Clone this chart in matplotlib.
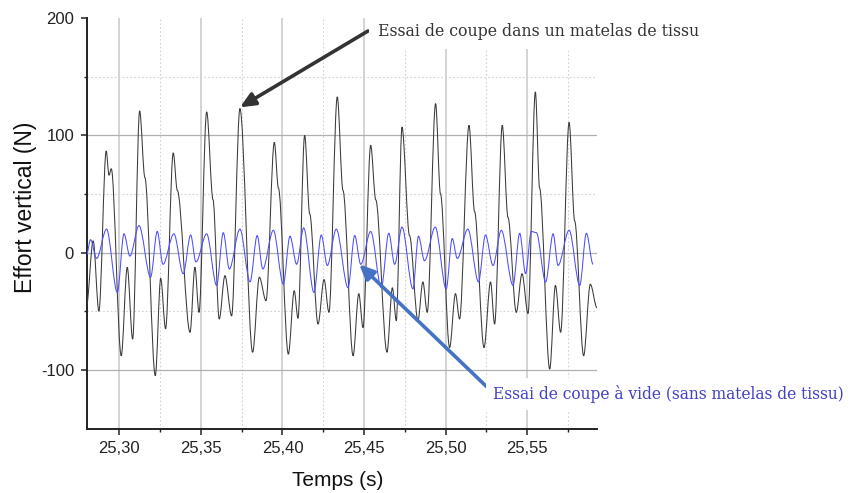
import matplotlib
matplotlib.use("Agg")
import matplotlib.pyplot as plt
from matplotlib.path import Path
from matplotlib.patches import PathPatch
from matplotlib.ticker import FixedLocator

# ---- data (extrema / shoulders of each signal) ----
t_tissu = [25.2798, 25.2839, 25.2874, 25.2919, 25.2936, 25.2950, 25.3011, 25.3048,
           25.3081, 25.3124, 25.3156, 25.3220, 25.3253, 25.3283, 25.3330, 25.3355,
           25.3433, 25.3463, 25.3488, 25.3535, 25.3574, 25.3612, 25.3647, 25.3688,
           25.3739, 25.3817, 25.3858, 25.3899, 25.3950, 25.3975, 25.4036, 25.4072,
           25.4095, 25.4136, 25.4167, 25.4218, 25.4255, 25.4285, 25.4336, 25.4371,
           25.4433, 25.4468, 25.4494, 25.4541, 25.4572, 25.4641, 25.4674, 25.4698,
           25.4733, 25.4779, 25.4831, 25.4861, 25.4888, 25.4939, 25.4969, 25.5025,
           25.5061, 25.5086, 25.5144, 25.5178, 25.5236, 25.5276, 25.5301, 25.5348,
           25.5383, 25.5434, 25.5469, 25.5506, 25.5551, 25.5577, 25.5639, 25.5674,
           25.5706, 25.5758, 25.5792, 25.5847, 25.5888, 25.5929]
f_tissu = [-45, 10, -50, 86.6, 66, 71.5, -88, -12.5,
           -73.8, 120.8, 64, -105, -22, -65, 85, 53,
           -68, -12.5, -51, 120, 45, -56.7, -19.7, -54,
           122.8, -85, -21, -41, 94, 55, -86.6, -32.5,
           -56, 100, 33, -61, -23, -51, 132.8, 53,
           -88, -35, -64, 91.5, 45, -85, -30, -58,
           107, 14.5, -58, -25, -51, 127, 50, -81,
           -35, -56.7, 108.5, 35, -81, -25, -61, 108.5,
           30, -51, -18, -52, 137, 55, -99.4, -28,
           -68, 111, 27, -88, -27, -47]

t_vide = [25.2798, 25.2823, 25.2860, 25.2921, 25.2987, 25.3028, 25.3064, 25.3120,
          25.3191, 25.3232, 25.3267, 25.3334, 25.3391, 25.3437, 25.3469, 25.3535,
          25.3596, 25.3637, 25.3674, 25.3739, 25.3801, 25.3845, 25.3879, 25.3944,
          25.4005, 25.4046, 25.4087, 25.4130, 25.4193, 25.4238, 25.4275, 25.4330,
          25.4402, 25.4443, 25.4480, 25.4541, 25.4606, 25.4652, 25.4688, 25.4733,
          25.4800, 25.4834, 25.4871, 25.4937, 25.5004, 25.5041, 25.5072, 25.5137,
          25.5202, 25.5245, 25.5291, 25.5342, 25.5414, 25.5455, 25.5491, 25.5526,
          25.5557, 25.5614, 25.5660, 25.5690, 25.5758, 25.5823, 25.5864, 25.5905]
f_vide = [-2, 11, -5, 20, -34, 16, -3, 23,
          -21, 18, -10, 16, -18, 15, -8, 16,
          -28, 17, -14, 20, -25, 14.5, -14, 19,
          -27, 14, -10, 21, -34, 15, -11, 20,
          -30, 14.5, -10, 18, -30, 16.5, -10, 21.7,
          -31, 14, -7, 21.7, -31, 12, -5, 20,
          -25, 15, -11, 19, -28, 16.5, -18, 18,
          17, -25, 16, -11, 19, -28, 16.5, -10]

x_ticks = [25.30, 25.35, 25.40, 25.45, 25.50, 25.55]
x_tick_labels = ["25,30", "25,35", "25,40", "25,45", "25,50", "25,55"]
x_minor = [25.325, 25.375, 25.425, 25.475, 25.525, 25.575]
y_ticks = [-100, 0, 100, 200]
y_tick_labels = ["-100", "0", "100", "200"]
y_minor = [-50, 50, 150]
x_label = "Temps (s)"
y_label = "Effort vertical (N)"
label_tissu = "Essai de coupe dans un matelas de tissu"
label_vide = "Essai de coupe à vide (sans matelas de tissu)"


def smooth_path(t, f):
    verts = [(t[0], f[0])]
    codes = [Path.MOVETO]
    for i in range(len(t) - 1):
        d = (t[i + 1] - t[i]) / 3.0
        verts += [(t[i] + d, f[i]), (t[i + 1] - d, f[i + 1]), (t[i + 1], f[i + 1])]
        codes += [Path.CURVE4] * 3
    return Path(verts, codes)


W, H = 856, 493
fig = plt.figure(figsize=(W / 100, H / 100), dpi=100)
ax_l, ax_r, ax_t, ax_b = 86.5, 597.0, 18.0, 428.5
ax = fig.add_axes([ax_l / W, 1 - ax_b / H, (ax_r - ax_l) / W, (ax_b - ax_t) / H])

ax.set_xlim(25.2798, 25.5929)
ax.set_ylim(-150, 200)

# grid
for xv in x_ticks:
    ax.axvline(xv, color="#d3d3d3", lw=1.4, zorder=0)
for xv in x_minor:
    ax.axvline(xv, color="#d2d2d2", lw=0.8, ls=(0, (1.5, 2)), zorder=0)
for yv in y_ticks[:-1]:
    ax.axhline(yv, color="#b0b0b0", lw=0.9, zorder=0)
for yv in y_minor:
    ax.axhline(yv, color="#d2d2d2", lw=0.8, ls=(0, (1.5, 2)), zorder=0)

ax.add_patch(PathPatch(smooth_path(t_tissu, f_tissu), fill=False,
                       edgecolor="#3a3a3a", lw=0.75, zorder=3))
ax.add_patch(PathPatch(smooth_path(t_vide, f_vide), fill=False,
                       edgecolor="#4d4dff", lw=0.75, zorder=4))

# axes styling
for s in ["top", "right"]:
    ax.spines[s].set_visible(False)
for s in ["left", "bottom"]:
    ax.spines[s].set_color("#222222")
    ax.spines[s].set_linewidth(1.4)

ax.xaxis.set_major_locator(FixedLocator(x_ticks))
ax.xaxis.set_minor_locator(FixedLocator(x_minor))
ax.yaxis.set_major_locator(FixedLocator(y_ticks))
ax.yaxis.set_minor_locator(FixedLocator(y_minor))
ax.set_xticklabels(x_tick_labels)
ax.set_yticklabels(y_tick_labels)
ax.tick_params(which="major", direction="out", length=4, width=1.1, color="#222222",
               labelsize=12, pad=5)
ax.tick_params(which="minor", direction="out", length=2.5, width=1.0, color="#222222")
for lab in ax.get_xticklabels() + ax.get_yticklabels():
    lab.set_fontfamily("Liberation Sans")
    lab.set_color("#222222")

ax.set_xlabel(x_label, fontsize=15, family="Liberation Sans", color="#111111", va="center")
ax.set_ylabel(y_label, fontsize=16.5, family="Liberation Sans", color="#111111", va="center")
ax.xaxis.set_label_coords(0.493, -0.127)
ax.yaxis.set_label_coords(-0.12, 0.54)

# annotations
i_peak = 24
ax.annotate("", xy=(t_tissu[i_peak], f_tissu[i_peak] + 1), xycoords="data",
            xytext=(368, H - 31), textcoords="figure pixels",
            arrowprops=dict(arrowstyle="-|>,head_length=0.9,head_width=0.4",
                            lw=2.6, color="#333333", shrinkA=0, shrinkB=0),
            annotation_clip=False, zorder=6)
i_dip = 34
ax.annotate("", xy=(t_vide[i_dip] - 0.001, f_vide[i_dip]), xycoords="data",
            xytext=(488, H - 388), textcoords="figure pixels",
            arrowprops=dict(arrowstyle="-|>,head_length=0.9,head_width=0.4",
                            lw=2.6, color="#4472c4", shrinkA=0, shrinkB=0),
            annotation_clip=False, zorder=6)

fig.text(378 / W, 1 - 32 / H, label_tissu, ha="left", va="center", fontsize=11.35,
         family="DejaVu Serif", color="#333333",
         bbox=dict(boxstyle="square,pad=0.55", fc="white", ec="none"), zorder=5)
fig.text(493 / W, 1 - 394 / H, label_vide, ha="left", va="center", fontsize=11.2,
         family="DejaVu Serif", color="#4040c8",
         bbox=dict(boxstyle="square,pad=0.45", fc="white", ec="none"), zorder=5)

fig.savefig("out.png", dpi=100)
